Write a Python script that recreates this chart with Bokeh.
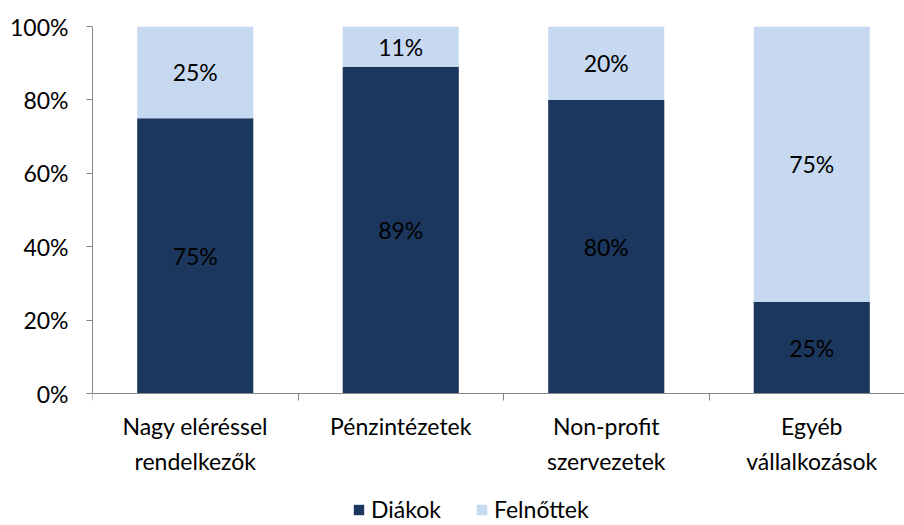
from bokeh.plotting import figure
from bokeh.models import (ColumnDataSource, Range1d, FixedTicker, NumeralTickFormatter,
                          Legend, LegendItem, LabelSet)
from bokeh.core.properties import value
from bokeh.embed import file_html
from bokeh.resources import INLINE

categories = ["Nagy eléréssel\nrendelkezők", "Pénzintézetek", "Non-profit\nszervezetek", "Egyéb\nvállalkozások"]
diakok = [75, 89, 80, 25]
felnottek = [25, 11, 20, 75]
series_names = ["Diákok", "Felnőttek"]
colors = ["#1C375E", "#C6D9F1"]
y_ticks = [0, 0.2, 0.4, 0.6, 0.8, 1.0]

FONT = "Lato"
FS = "23px"

xs = list(range(len(categories)))
d_frac = [v / 100 for v in diakok]
f_frac = [v / 100 for v in felnottek]
src = ColumnDataSource(dict(x=xs, Diakok=d_frac, Felnottek=f_frac))

W, H = 904, 525
LEFT, TOP = 92, 26
ZERO_Y = 393          # pixel row of the 0% line
PX_PER_UNIT = ZERO_Y - TOP
CAT_PX = 205.5
p = figure(width=W, height=H, output_backend="svg", toolbar_location=None,
           x_range=Range1d(-0.5, -0.5 + (W - LEFT) / CAT_PX),
           y_range=Range1d(-(H - ZERO_Y) / PX_PER_UNIT, 1),
           min_border_left=LEFT, min_border_right=0, min_border_top=TOP, min_border_bottom=0)
p.outline_line_color = None
p.xgrid.grid_line_color = None
p.ygrid.grid_line_color = None

rs = p.vbar_stack(["Diakok", "Felnottek"], x="x", width=0.565, color=colors,
                  line_color=None, source=src)

# value labels
lx, ly, lt = [], [], []
for i in xs:
    lx += [i, i]
    ly += [d_frac[i] / 2, d_frac[i] + f_frac[i] / 2]
    lt += [f"{diakok[i]}%", f"{felnottek[i]}%"]
lsrc = ColumnDataSource(dict(x=lx, y=ly, t=lt))
p.add_layout(LabelSet(x="x", y="y", text="t", source=lsrc, text_align="center",
                      text_baseline="middle", text_font=value(FONT), text_font_size=value(FS),
                      text_color="black"))

# axes
ax = p.xaxis[0]
ax.fixed_location = 0
ax.ticker = FixedTicker(ticks=xs, minor_ticks=[-0.5, 0.5, 1.5, 2.5])
ax.major_label_overrides = {i: c for i, c in enumerate(categories)}
ax.major_tick_out = 0
ax.major_tick_in = 0
ax.minor_tick_out = 7
ax.minor_tick_in = 0
ax.minor_tick_line_color = "#868686"
ax.axis_line_color = "#868686"
ax.major_label_text_font = FONT
ax.major_label_text_font_size = FS
ax.major_label_text_color = "black"
ax.major_label_standoff = 11
ax.major_label_text_line_height = 1.28

ay = p.yaxis[0]
ay.bounds = (0, 1)
ay.ticker = FixedTicker(ticks=y_ticks, minor_ticks=[])
ay.formatter = NumeralTickFormatter(format="0%")
ay.major_tick_out = 6
ay.major_tick_in = 0
ay.major_tick_line_color = "#868686"
ay.axis_line_color = "#868686"
ay.major_label_text_font = FONT
ay.major_label_text_font_size = FS
ay.major_label_text_color = "black"
ay.major_label_standoff = 18

legend = Legend(items=[LegendItem(label=series_names[0], renderers=[rs[0]]),
                       LegendItem(label=series_names[1], renderers=[rs[1]])],
                orientation="horizontal", location=(260, 2),
                glyph_width=13, glyph_height=13, label_standoff=6, spacing=34,
                padding=0, margin=0, border_line_color=None, background_fill_alpha=0,
                label_text_font=FONT, label_text_font_size=FS, label_text_color="black")
p.add_layout(legend, "center")

open("out.html", "w").write(file_html(p, INLINE))
